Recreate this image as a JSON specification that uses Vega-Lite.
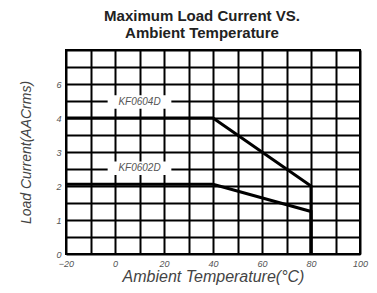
{
  "$schema": "https://vega.github.io/schema/vega-lite/v6.json",
  "autosize": "none",
  "width": 294,
  "height": 204,
  "padding": {"left": 66, "top": 50, "right": 17, "bottom": 39},
  "background": "white",
  "config": {
    "view": {"stroke": "black", "strokeWidth": 2},
    "font": "Liberation Sans",
    "axisX": {
      "labelExpr": "datum.value % 20 == 0 ? format(datum.value, 'd') : ''",
      "labelOverlap": false, "labelFlush": false,
      "grid": true, "gridColor": "black", "gridWidth": 2, "gridOpacity": 1,
      "domain": false, "ticks": false,
      "labelFontSize": 9, "labelFontStyle": "italic", "labelColor": "#555",
      "labelPadding": 5,
      "titleFontSize": 16, "titleFontStyle": "italic", "titleFontWeight": "normal",
      "titleColor": "#444", "titlePadding": 0
    },
    "axisY": {
      "labelExpr": "datum.value == 5 ? '6' : (datum.value % 1 == 0 && datum.value < 5 ? format(datum.value, 'd') : '')",
      "labelOverlap": false, "labelFlush": false,
      "grid": true, "gridColor": "black", "gridWidth": 2, "gridOpacity": 1,
      "domain": false, "ticks": false,
      "labelFontSize": 9, "labelFontStyle": "italic", "labelColor": "#555",
      "labelPadding": 5,
      "titleFontSize": 14, "titleFontStyle": "italic", "titleFontWeight": "normal",
      "titleColor": "#444", "titlePadding": 22
    }
  },
  "title": {
    "text": ["Maximum Load Current VS.", "Ambient  Temperature"],
    "fontSize": 15,
    "fontWeight": "bold",
    "color": "#222",
    "anchor": "middle",
    "dx": -11,
    "offset": 5,
    "lineHeight": 17
  },
  "datasets": {
    "curves": [
      {"series": "KF0604D", "ord": 1, "temp": -20, "current": 4},
      {"series": "KF0604D", "ord": 2, "temp": 40, "current": 4},
      {"series": "KF0604D", "ord": 3, "temp": 80, "current": 2},
      {"series": "KF0604D", "ord": 4, "temp": 80, "current": 0},
      {"series": "KF0602D", "ord": 1, "temp": -20, "current": 2.05},
      {"series": "KF0602D", "ord": 2, "temp": 40, "current": 2.05},
      {"series": "KF0602D", "ord": 3, "temp": 80, "current": 1.25},
      {"series": "KF0602D", "ord": 4, "temp": 80, "current": 0}
    ],
    "labels": [
      {"name": "KF0604D", "temp": 10, "current": 4.47, "x0": -3, "x1": 23, "y0": 4.27, "y1": 4.67},
      {"name": "KF0602D", "temp": 10, "current": 2.52, "x0": -3, "x1": 23, "y0": 2.32, "y1": 2.72}
    ]
  },
  "encoding": {
    "x": {
      "field": "temp", "type": "quantitative",
      "scale": {"domain": [-20, 100], "nice": false},
      "title": "Ambient Temperature(°C)",
      "axis": {"values": [-20, -10, 0, 10, 20, 30, 40, 50, 60, 70, 80, 90, 100]}
    },
    "y": {
      "field": "current", "type": "quantitative",
      "scale": {"domain": [0, 6], "nice": false},
      "title": "Load Current(AACrms)",
      "axis": {"values": [0, 0.5, 1, 1.5, 2, 2.5, 3, 3.5, 4, 4.5, 5, 5.5, 6]}
    }
  },
  "layer": [
    {
      "data": {"name": "curves"},
      "mark": {"type": "line", "color": "black", "strokeWidth": 3},
      "encoding": {
        "detail": {"field": "series"},
        "order": {"field": "ord"}
      }
    },
    {
      "data": {"name": "labels"},
      "mark": {"type": "rect", "color": "white"},
      "encoding": {
        "x": {"field": "x0", "type": "quantitative", "title": "Ambient Temperature(°C)",
              "axis": {"values": [-20, -10, 0, 10, 20, 30, 40, 50, 60, 70, 80, 90, 100]}},
        "x2": {"field": "x1"},
        "y": {"field": "y0", "type": "quantitative", "title": "Load Current(AACrms)",
              "axis": {"values": [0, 0.5, 1, 1.5, 2, 2.5, 3, 3.5, 4, 4.5, 5, 5.5, 6]}},
        "y2": {"field": "y1"}
      }
    },
    {
      "data": {"name": "labels"},
      "mark": {"type": "text", "fontSize": 10, "fontStyle": "italic", "color": "#555", "baseline": "middle"},
      "encoding": {
        "text": {"field": "name"}
      }
    }
  ]
}
